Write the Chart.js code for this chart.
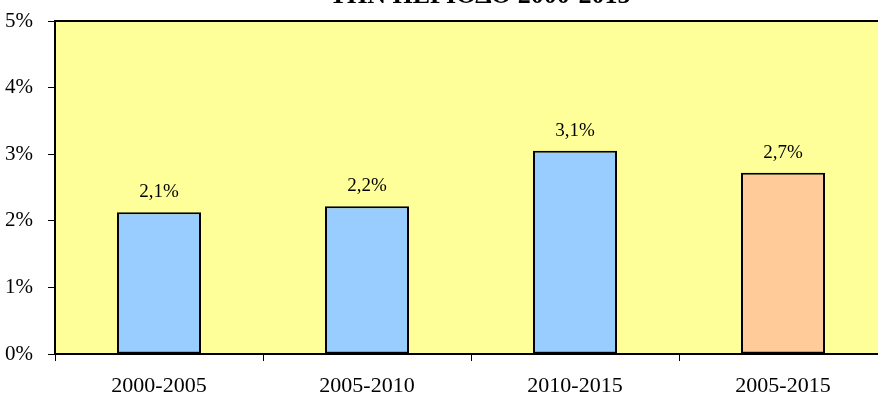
<!DOCTYPE html>
<html>
<head>
<meta charset="utf-8">
<script src="https://cdn.jsdelivr.net/npm/chart.js@4.4.1/dist/chart.umd.min.js"></script>
<style>
  html, body { margin: 0; padding: 0; background: #ffffff; overflow: hidden; }
  #wrap { width: 900px; height: 394px; }
</style>
</head>
<body>
<div id="wrap"><canvas id="chart" width="900" height="394"></canvas></div>
<script>
// Periods and average annual rates (%)
const periods = ['2000-2005', '2005-2010', '2010-2015', '2005-2015'];
const rates = [2.13, 2.22, 3.05, 2.72];
const rateLabels = ['2,1%', '2,2%', '3,1%', '2,7%'];
const barColors = ['#99CCFF', '#99CCFF', '#99CCFF', '#FFCC99'];
const yTicks = [0, 1, 2, 3, 4, 5];
const titleText = 'ΤΗΝ ΠΕΡΙΟΔΟ 2000-2015';

const serif = '"Liberation Serif", "Times New Roman", serif';

// Yellow plot background + top frame line
const plotFrame = {
    id: 'plotFrame',
    beforeDraw(chart) {
        const { ctx, chartArea } = chart;
        ctx.save();
        ctx.fillStyle = '#FFFF99';
        ctx.fillRect(chartArea.left, chartArea.top, chartArea.right - chartArea.left, chartArea.bottom - chartArea.top);
        ctx.restore();
    },
    afterDraw(chart) {
        const { ctx, chartArea } = chart;
        ctx.save();
        ctx.strokeStyle = '#000';
        ctx.lineWidth = 2;
        ctx.beginPath();
        ctx.moveTo(chartArea.left, chartArea.top);
        ctx.lineTo(chartArea.right, chartArea.top);
        ctx.stroke();
        ctx.restore();
    }
};

// Value labels above each bar
const barLabels = {
    id: 'barLabels',
    afterDatasetsDraw(chart) {
        const { ctx } = chart;
        const meta = chart.getDatasetMeta(0);
        ctx.save();
        ctx.font = '19px ' + serif;
        ctx.fillStyle = '#000';
        ctx.textAlign = 'center';
        ctx.textBaseline = 'alphabetic';
        meta.data.forEach((bar, i) => {
            ctx.fillText(rateLabels[i], bar.x, bar.y - 15);
        });
        ctx.restore();
    }
};

// Title, mostly clipped at the top edge as in the source
const cutTitle = {
    id: 'cutTitle',
    afterDraw(chart) {
        const { ctx } = chart;
        ctx.save();
        ctx.font = 'bold 26px ' + serif;
        ctx.fillStyle = '#000';
        ctx.textAlign = 'center';
        ctx.textBaseline = 'alphabetic';
        ctx.fillText(titleText, 480, 3);
        ctx.restore();
    }
};

new Chart(document.getElementById('chart'), {
    type: 'bar',
    data: {
        labels: periods,
        datasets: [{
            data: rates,
            backgroundColor: barColors,
            borderColor: '#000',
            borderWidth: 2,
            borderSkipped: false,
            categoryPercentage: 1,
            barPercentage: 0.404
        }]
    },
    options: {
        responsive: false,
        animation: false,
        layout: { padding: { top: 21, left: 0, right: 13, bottom: 0 } },
        plugins: {
            legend: { display: false },
            title: { display: false },
            tooltip: { enabled: false }
        },
        scales: {
            x: {
                afterFit: (scale) => {
                    scale.height = 40;
                    scale.paddingLeft = 0;
                    scale.paddingRight = 0;
                },
                grid: {
                    display: true,
                    drawOnChartArea: false,
                    drawTicks: true,
                    tickLength: 7,
                    color: '#000',
                    offset: true
                },
                border: { display: true, color: '#000', width: 2 },
                ticks: {
                    color: '#000',
                    padding: 12,
                    font: { family: serif, size: 22 }
                }
            },
            y: {
                min: 0,
                max: 5,
                afterFit: (scale) => {
                    scale.width = 55;
                    scale.paddingTop = 0;
                    scale.paddingBottom = 0;
                },
                afterBuildTicks: (scale) => { scale.ticks = yTicks.map(v => ({ value: v })); },
                grid: {
                    display: true,
                    drawOnChartArea: false,
                    drawTicks: true,
                    tickLength: 7,
                    color: '#000'
                },
                border: { display: true, color: '#000', width: 2 },
                ticks: {
                    color: '#000',
                    padding: 15,
                    font: { family: serif, size: 21 },
                    callback: (v) => v + '%'
                }
            }
        }
    },
    plugins: [plotFrame, barLabels, cutTitle]
});
</script>
</body>
</html>
